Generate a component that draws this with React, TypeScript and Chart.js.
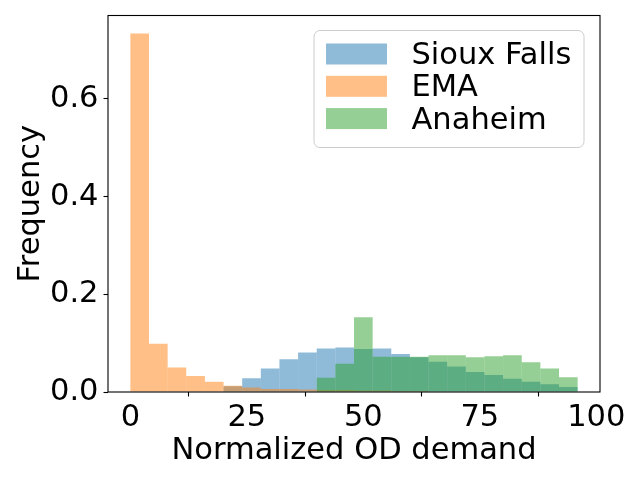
import { useEffect, useRef } from "react";
import { Chart, registerables } from "chart.js";

Chart.register(...registerables);

// Histogram bins (left edges) and bin width
const binLefts = [0, 4, 8, 12, 16, 20, 24, 28, 32, 36, 40, 44, 48, 52, 56, 60, 64, 68, 72, 76, 80, 84, 88, 92];
const binWidth = 4;

// Series values (frequency per bin)
const siouxFalls = [0, 0, 0, 0, 0, 0.012, 0.028, 0.048, 0.067, 0.081, 0.089, 0.091, 0.088, 0.089, 0.078, 0.071, 0.062, 0.052, 0.041, 0.035, 0.027, 0.021, 0.016, 0.01];
const ema = [0.734, 0.099, 0.05, 0.033, 0.021, 0.013, 0.009, 0.006, 0.006, 0.005, 0.004, 0.004, 0.003, 0.003, 0.002, 0.002, 0.001, 0, 0, 0, 0, 0, 0, 0];
const anaheim = [0, 0, 0, 0, 0, 0, 0, 0, 0, 0, 0.029, 0.058, 0.153, 0.072, 0.072, 0.072, 0.075, 0.075, 0.071, 0.073, 0.075, 0.061, 0.048, 0.03];

const seriesNames = ["Sioux Falls", "EMA", "Anaheim"];
const seriesColors = ["rgba(31,119,180,0.5)", "rgba(255,127,14,0.5)", "rgba(44,160,44,0.5)"];

const xTicks = [0, 25, 50, 75, 100];
const yTicks = [0, 0.2, 0.4, 0.6];
const xLabel = "Normalized OD demand";
const yLabel = "Frequency";

const FONT = "DejaVu Sans";
const FS = 30.5;

const toPoints = (arr: number[]) => binLefts.map((l, i) => ({ x: l + binWidth / 2, y: arr[i] }));

const framePlugin = {
  id: "mplFrame",
  afterDatasetsDraw(chart: any) {
    const { ctx, chartArea } = chart;
    ctx.save();
    ctx.strokeStyle = "#000";
    ctx.lineWidth = 1.1;
    ctx.strokeRect(chartArea.left, chartArea.top, chartArea.right - chartArea.left, chartArea.bottom - chartArea.top);
    ctx.restore();
  },
};

const legendPlugin = {
  id: "mplLegend",
  afterDraw(chart: any) {
    const { ctx, chartArea } = chart;
    const right = chartArea.right - 16;
    const top = chartArea.top + 15;
    const width = 270;
    const height = 117;
    const left = right - width;
    const r = 6;
    ctx.save();
    ctx.beginPath();
    ctx.moveTo(left + r, top);
    ctx.lineTo(left + width - r, top);
    ctx.arcTo(left + width, top, left + width, top + r, r);
    ctx.lineTo(left + width, top + height - r);
    ctx.arcTo(left + width, top + height, left + width - r, top + height, r);
    ctx.lineTo(left + r, top + height);
    ctx.arcTo(left, top + height, left, top + height - r, r);
    ctx.lineTo(left, top + r);
    ctx.arcTo(left, top, left + r, top, r);
    ctx.closePath();
    ctx.fillStyle = "rgba(255,255,255,0.8)";
    ctx.fill();
    ctx.strokeStyle = "#cccccc";
    ctx.lineWidth = 1;
    ctx.stroke();
    ctx.font = `${FS}px "${FONT}"`;
    ctx.textBaseline = "middle";
    ctx.textAlign = "left";
    seriesNames.forEach((name, i) => {
      const yc = top + 23.5 + i * 32.3;
      ctx.fillStyle = seriesColors[i];
      ctx.fillRect(left + 12, yc - 10.5, 61, 21);
      ctx.fillStyle = "#000";
      ctx.fillText(name, left + 97.5, yc + 2);
    });
    ctx.restore();
  },
};

export default function App() {
  const ref = useRef<HTMLCanvasElement | null>(null);
  useEffect(() => {
    if (!ref.current) return;
    const allVals = [...siouxFalls, ...ema, ...anaheim];
    const yMax = Math.max(...allVals) * 1.05;
    const series = [siouxFalls, ema, anaheim];
    const chart = new Chart(ref.current, {
      type: "bar",
      data: {
        datasets: series.map((s, i) => ({
          label: seriesNames[i],
          data: toPoints(s),
          backgroundColor: seriesColors[i],
          borderWidth: 0,
          barPercentage: 1,
          categoryPercentage: 1,
          grouped: false,
          inflateAmount: 0,
          order: 3 - i,
        })),
      } as any,
      options: {
        animation: false,
        responsive: false,
        maintainAspectRatio: false,
        layout: { padding: { top: 15.5, right: 40, left: 0, bottom: 0 } },
        plugins: {
          legend: { display: false },
          tooltip: { enabled: false },
        },
        scales: {
          x: {
            type: "linear",
            min: -4.8,
            max: 100.8,
            offset: false,
            afterBuildTicks: (scale: any) => {
              scale.ticks = xTicks.map((v) => ({ value: v }));
            },
            afterFit: (scale: any) => {
              scale.height = 88;
              scale.paddingLeft = 0;
              scale.paddingRight = 0;
            },
            grid: {
              display: true,
              drawOnChartArea: false,
              drawTicks: true,
              tickLength: 4.5,
              tickColor: "#000",
              tickWidth: 1.1,
            },
            border: { display: false },
            ticks: {
              autoSkip: false,
              maxRotation: 0,
              padding: 3.2,
              color: "#000",
              font: { family: FONT, size: FS },
              callback: (v: any) => String(Math.round(Number(v))),
            },
            title: {
              display: true,
              text: xLabel,
              color: "#000",
              font: { family: FONT, size: FS },
              padding: { top: 0, bottom: 10.7 },
            },
          },
          y: {
            type: "linear",
            min: 0,
            max: yMax,
            afterBuildTicks: (scale: any) => {
              scale.ticks = yTicks.map((v) => ({ value: v }));
            },
            afterFit: (scale: any) => {
              scale.width = 108;
              scale.paddingTop = 0;
              scale.paddingBottom = 0;
            },
            grid: {
              display: true,
              drawOnChartArea: false,
              drawTicks: true,
              tickLength: 4.5,
              tickColor: "#000",
              tickWidth: 1.1,
            },
            border: { display: false },
            ticks: {
              autoSkip: false,
              padding: 5,
              color: "#000",
              font: { family: FONT, size: FS },
              callback: (v: any) => Number(v).toFixed(1),
            },
            title: {
              display: true,
              text: yLabel,
              color: "#000",
              font: { family: FONT, size: FS },
              padding: { top: 12.7, bottom: 0 },
            },
          },
        },
      } as any,
      plugins: [framePlugin, legendPlugin],
    });
    return () => chart.destroy();
  }, []);
  return (
    <div style={{ position: "fixed", left: 0, top: 0, width: 640, height: 480, background: "#fff" }}>
      <canvas ref={ref} width={640} height={480} style={{ width: 640, height: 480, display: "block" }} />
    </div>
  );
}
